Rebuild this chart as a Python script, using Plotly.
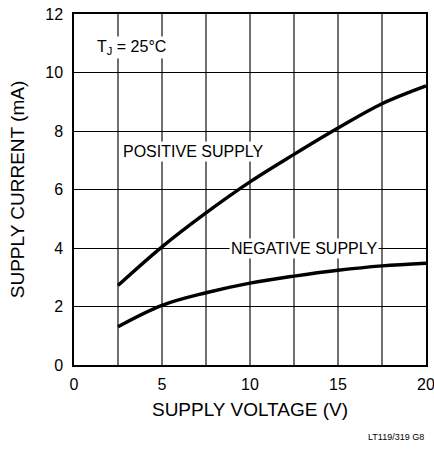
import plotly.graph_objects as go

voltage = [2.5, 5, 7.5, 10, 12.5, 15, 17.5, 20]
positive_supply = [2.72, 4.04, 5.2, 6.26, 7.2, 8.1, 8.93, 9.54]
negative_supply = [1.31, 2.04, 2.47, 2.8, 3.04, 3.24, 3.39, 3.48]

x_ticks = [0, 5, 10, 15, 20]
y_ticks = [0, 2, 4, 6, 8, 10, 12]

FONT = "Liberation Sans"

fig = go.Figure()
fig.add_trace(go.Scatter(x=voltage, y=positive_supply, mode="lines",
                         line=dict(color="black", width=3.4, shape="spline"),
                         showlegend=False))
fig.add_trace(go.Scatter(x=voltage, y=negative_supply, mode="lines",
                         line=dict(color="black", width=3.4, shape="spline"),
                         showlegend=False))

fig.update_layout(
    width=434, height=451,
    margin=dict(l=74, r=8, t=14, b=86),
    paper_bgcolor="white", plot_bgcolor="white",
    font=dict(family=FONT, size=16, color="black"),
    xaxis=dict(range=[0, 20], tickvals=x_ticks, ticks="", showline=True, mirror=True,
               linecolor="black", linewidth=1.5, showgrid=False, zeroline=False,
               automargin=False, ticklabeloverflow="allow",
               title=dict(text="SUPPLY VOLTAGE (V)", standoff=11),
               minor=dict(dtick=2.5, showgrid=True, gridcolor="#707070", gridwidth=1.5),
               ticklabelstandoff=4),
    yaxis=dict(range=[0, 12], tickvals=y_ticks, ticks="", showline=True, mirror=True,
               linecolor="black", linewidth=1.5, showgrid=True, gridcolor="black",
               gridwidth=1, zeroline=False, automargin=False, ticklabeloverflow="allow",
               title=dict(text="SUPPLY CURRENT (mA)", standoff=16),
               ticklabelstandoff=6),
    annotations=[
        dict(x=3.24, y=10.87, xref="x", yref="y", text="T<sub>J</sub> = 25°C",
             showarrow=False, bgcolor="white", font=dict(size=16), xanchor="center"),
        dict(x=6.78, y=7.29, xref="x", yref="y", text="POSITIVE SUPPLY",
             showarrow=False, bgcolor="white", font=dict(size=16)),
        dict(x=13.06, y=3.99, xref="x", yref="y", text="NEGATIVE SUPPLY",
             showarrow=False, bgcolor="white", font=dict(size=16)),
        dict(x=1, y=-0.205, xref="paper", yref="paper", text="LT119/319 G8",
             showarrow=False, xanchor="right", yanchor="middle",
             font=dict(size=9)),
    ],
)

fig.write_html("out.html", config={"displayModeBar": False},
               post_script="document.body.style.margin='0';")
